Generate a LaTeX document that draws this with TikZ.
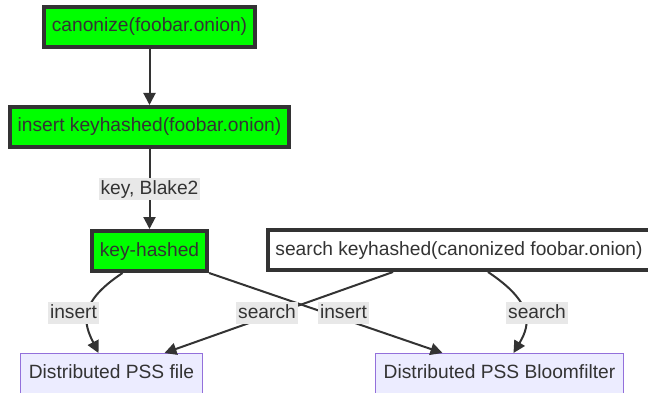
\documentclass[tikz,border=0pt]{standalone}
\usepackage{fontspec}
\setmainfont{Liberation Sans}
\usetikzlibrary{arrows.meta}
\definecolor{txt}{HTML}{333333}
\definecolor{hashgreen}{HTML}{00FF00}
\definecolor{pssfill}{HTML}{ECECFF}
\definecolor{pssline}{HTML}{9370DB}
\definecolor{lblback}{HTML}{E8E8E8}
\tikzset{
	box/.style={draw=txt, line width=4pt, text=txt, inner xsep=8pt, minimum height=40pt, text height=14pt, text depth=4pt},
	green box/.style={box, fill=hashgreen},
	store/.style={draw=pssline, line width=1pt, fill=pssfill, text=txt, inner xsep=8pt, minimum height=40pt, text height=14pt, text depth=4pt},
	lbl/.style={fill=lblback, text=txt, inner xsep=2pt, inner ysep=2pt, text height=14pt, text depth=4pt},
	edge/.style={draw=txt, line width=2pt, -{Triangle[length=12pt,width=12pt]}},
}

\begin{document}
\begin{tikzpicture}[x=1pt, y=-1pt, font=\fontsize{19.2pt}{23pt}\selectfont]
		\useasboundingbox (0,0) rectangle (648,393);
		\clip (0,0) rectangle (648,393);
		\node[green box] (canon) at (149.5,27) {canonize(foobar.onion)};
		\node[green box] (ins) at (149.5,127) {insert keyhashed(foobar.onion)};
		\node[green box] (kh) at (149.5,251) {key-hashed};
		\node[box, fill=white, inner xsep=7pt] (srch) at (459,250) {search keyhashed(canonized foobar.onion)};
		\node[store] (file) at (111.5,373.5) {Distributed PSS file};
		\node[store] (bloom) at (499.5,373.5) {Distributed PSS Bloomfilter};
		\draw [edge] (canon) -- (ins);
		\draw [edge] (ins) -- (kh);
		\draw [edge] ([xshift=-27pt]kh.south) .. controls +(-45,30) and +(-15,-30) .. ([xshift=-13pt]file.north);
		\draw [edge] (kh.south east) -- ([xshift=-57pt]bloom.north);
		\draw [edge] ([xshift=-66pt]srch.south) -- ([xshift=53pt]file.north);
		\draw [edge] ([xshift=29pt]srch.south) .. controls +(45,30) and +(18,-30) .. ([xshift=14pt]bloom.north);
		\node[lbl] (hashL) at (149.5,189) {key, Blake2};
		\node[lbl] (insL) at (73.5,313) {insert};
		\node[lbl] (srchL) at (267,313) {search};
		\node[lbl] (insR) at (343.5,313) {insert};
		\node[lbl] (srchR) at (537,313) {search};
	\end{tikzpicture}
\end{document}
